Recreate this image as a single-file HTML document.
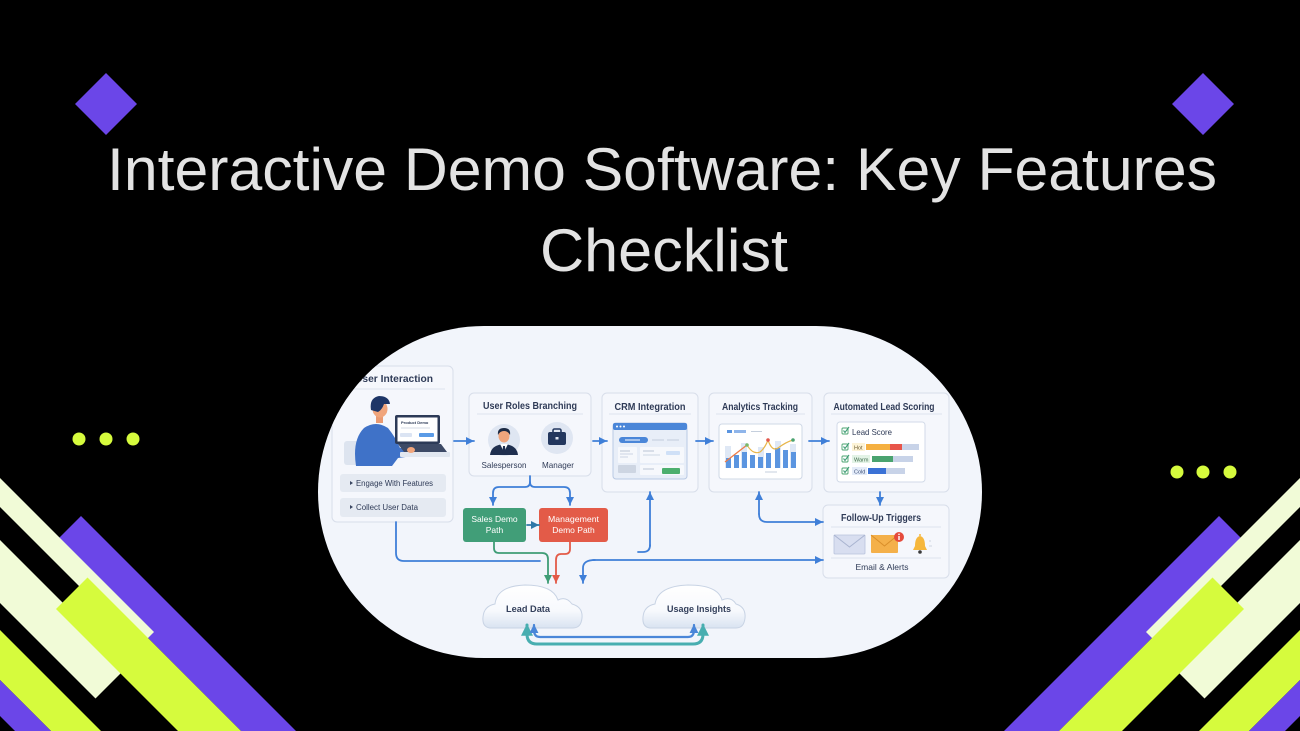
<!DOCTYPE html>
<html>
<head>
<meta charset="utf-8">
<style>
html,body{margin:0;padding:0;background:#000;width:1300px;height:731px;overflow:hidden;}
svg{display:block;}
text{font-family:"Liberation Sans","DejaVu Sans",sans-serif;}
</style>
</head>
<body>
<svg width="1300" height="731" viewBox="0 0 1300 731" xmlns="http://www.w3.org/2000/svg">
<defs>
  <clipPath id="pill"><rect x="318" y="326" width="664" height="332" rx="166" ry="166"/></clipPath>
  <marker id="ab" viewBox="0 0 10 10" refX="10" refY="5" markerWidth="8" markerHeight="8" markerUnits="userSpaceOnUse" orient="auto"><path d="M0,0 L10,5 L0,10 z" fill="#3f7fd8"/></marker>
  <marker id="ag" viewBox="0 0 10 10" refX="10" refY="5" markerWidth="8" markerHeight="8" markerUnits="userSpaceOnUse" orient="auto"><path d="M0,0 L10,5 L0,10 z" fill="#3f9d76"/></marker>
  <marker id="ar" viewBox="0 0 10 10" refX="10" refY="5" markerWidth="8" markerHeight="8" markerUnits="userSpaceOnUse" orient="auto"><path d="M0,0 L10,5 L0,10 z" fill="#e35b48"/></marker>
  <marker id="adt" viewBox="0 0 10 10" refX="10" refY="5" markerWidth="8" markerHeight="8" markerUnits="userSpaceOnUse" orient="auto"><path d="M0,0 L10,5 L0,10 z" fill="#2f78a8"/></marker>
  <marker id="at" viewBox="0 0 10 10" refX="9" refY="5" markerWidth="12" markerHeight="12" markerUnits="userSpaceOnUse" orient="auto"><path d="M0,0 L10,5 L0,10 z" fill="#48aeb0"/></marker>
  <marker id="ab2" viewBox="0 0 10 10" refX="9" refY="5" markerWidth="9" markerHeight="9" markerUnits="userSpaceOnUse" orient="auto"><path d="M0,0 L10,5 L0,10 z" fill="#4a86d8"/></marker>
  <linearGradient id="cloudg" x1="0" y1="0" x2="0" y2="1">
    <stop offset="0" stop-color="#ffffff"/>
    <stop offset="0.6" stop-color="#f7f9fd"/>
    <stop offset="1" stop-color="#d9e3f1"/>
  </linearGradient>
  <g id="stripes">
    <polygon fill="#6b46e8" points="81,516 296,731 241,731 53.5,543.5"/>
    <polygon fill="#f1fbd7" points="0,478 154,632 139.5,646.5 0,507"/>
    <polygon fill="#f1fbd7" points="0,540 127,667 95.5,698.5 0,603"/>
    <polygon fill="#d6fb3d" points="87.5,577.5 241,731 178,731 56,609"/>
    <polygon fill="#d6fb3d" points="0,630 101,731 51,731 0,680"/>
    <polygon fill="#6b46e8" points="0,680 51,731 15,731 0,716"/>
  </g>
</defs>

<rect x="0" y="0" width="1300" height="731" fill="#000"/>

<!-- decorative stripes -->
<use href="#stripes"/>
<use href="#stripes" transform="translate(1300,0) scale(-1,1)"/>

<!-- diamonds -->
<polygon fill="#6b46e8" points="106,73 137,104 106,135 75,104"/>
<polygon fill="#6b46e8" points="1203,73 1234,104 1203,135 1172,104"/>

<!-- dots -->
<g fill="#d6fb3d">
  <circle cx="79" cy="439" r="6.5"/><circle cx="106" cy="439" r="6.5"/><circle cx="133" cy="439" r="6.5"/>
  <circle cx="1177" cy="472" r="6.5"/><circle cx="1203" cy="472" r="6.5"/><circle cx="1230" cy="472" r="6.5"/>
</g>

<!-- title -->
<text x="107" y="190" font-size="60" fill="#e3e3e3" textLength="1110" lengthAdjust="spacingAndGlyphs">Interactive Demo Software: Key Features</text>
<text x="540" y="271" font-size="60" fill="#e3e3e3" textLength="248" lengthAdjust="spacingAndGlyphs">Checklist</text>

<!-- pill diagram -->
<rect x="318" y="326" width="664" height="332" rx="166" ry="166" fill="#f2f5fb"/>
<g clip-path="url(#pill)">

  <!-- User Interaction box -->
  <rect x="332" y="366" width="121" height="156" rx="5" fill="#f5f7fc" stroke="#d8deea" stroke-width="1"/>
  <text x="355" y="382" font-size="10" font-weight="bold" fill="#2f3b57" textLength="78" lengthAdjust="spacingAndGlyphs">User Interaction</text>
  <line x1="340" y1="389" x2="445" y2="389" stroke="#dde3ee" stroke-width="1"/>
  <!-- person illustration -->
  <rect x="344" y="441" width="33" height="24" rx="3" fill="#dde4ef"/>
  <path d="M356,466 Q352,440 364,428 Q376,420 388,428 Q396,438 400,448 L412,448 L413,456 L398,458 Q395,462 392,466 Z" fill="#3f72c8"/>
  <rect x="376" y="413" width="7" height="10" fill="#e99a72"/>
  <ellipse cx="380" cy="409" rx="7.5" ry="8.5" fill="#f0a57c"/>
  <path d="M371,410 Q369,398 379,396 Q389,396 390,404 L384,404 Q382,410 378,412 Z" fill="#1e3667"/>
  <rect x="395" y="415" width="45" height="29" rx="2" fill="#2c3a57"/>
  <rect x="397.5" y="417.5" width="40" height="24" fill="#ffffff"/>
  <text x="401" y="424" font-size="4" font-weight="bold" fill="#2c3a57">Product Demo</text>
  <line x1="401" y1="428" x2="430" y2="428" stroke="#d5dbe6" stroke-width="1"/>
  <rect x="400" y="433" width="12" height="4" rx="1" fill="#dbe4f3"/>
  <rect x="419" y="433" width="15" height="4" rx="1" fill="#5b9be6"/>
  <path d="M398,444 L441,444 L447,452 L404,452 Z" fill="#3d4a66"/>
  <rect x="400" y="452" width="50" height="5" rx="1" fill="#e1e7f0"/>
  <ellipse cx="411" cy="450" rx="4" ry="3" fill="#f0a57c"/>
  <!-- list buttons -->
  <rect x="340" y="474" width="106" height="18" rx="3" fill="#e5eaf2"/>
  <polygon points="350,481 353,483 350,485" fill="#3a4661"/>
  <text x="356" y="486" font-size="8" fill="#2f3b57" textLength="77" lengthAdjust="spacingAndGlyphs">Engage With Features</text>
  <rect x="340" y="498" width="106" height="19" rx="3" fill="#e5eaf2"/>
  <polygon points="350,505 353,507 350,509" fill="#3a4661"/>
  <text x="356" y="510" font-size="8" fill="#2f3b57" textLength="62" lengthAdjust="spacingAndGlyphs">Collect User Data</text>

  <!-- User Roles Branching -->
  <rect x="469" y="393" width="122" height="83" rx="5" fill="#f5f7fc" stroke="#d8deea" stroke-width="1"/>
  <text x="530" y="409" font-size="10" font-weight="bold" fill="#2f3b57" text-anchor="middle" textLength="94" lengthAdjust="spacingAndGlyphs">User Roles Branching</text>
  <line x1="477" y1="414" x2="583" y2="414" stroke="#dde3ee" stroke-width="1"/>
  <circle cx="504" cy="440" r="16" fill="#dfe6f2"/>
  <path d="M490,455 Q491,445 504,444 Q517,445 518,455 Z" fill="#1f2f4f"/>
  <path d="M500,444 L504,452 L508,444 Z" fill="#ffffff"/>
  <path d="M503,446 L505,446 L505.5,453 L504,455 L502.5,453 Z" fill="#1f2f4f"/>
  <ellipse cx="504" cy="436" rx="5.5" ry="6.5" fill="#f0a57c"/>
  <path d="M498,435 Q497,428 504,428 Q511,428 510,435 Q508,431 504,431 Q500,431 498,435 Z" fill="#1c2a44"/>
  <text x="504" y="468" font-size="8.5" fill="#2f3b57" text-anchor="middle" textLength="45" lengthAdjust="spacingAndGlyphs">Salesperson</text>
  <circle cx="557" cy="438" r="16" fill="#dfe6f2"/>
  <rect x="553" y="429" width="8" height="5" rx="1.5" fill="none" stroke="#23375e" stroke-width="1.6"/>
  <rect x="548" y="432" width="18" height="13" rx="2" fill="#23375e"/>
  <rect x="555.5" y="437" width="3" height="2.5" fill="#dfe6f2"/>
  <text x="558" y="468" font-size="8.5" fill="#2f3b57" text-anchor="middle" textLength="32" lengthAdjust="spacingAndGlyphs">Manager</text>

  <!-- CRM Integration -->
  <rect x="602" y="393" width="96" height="99" rx="5" fill="#f5f7fc" stroke="#d8deea" stroke-width="1"/>
  <text x="650" y="410" font-size="10" font-weight="bold" fill="#2f3b57" text-anchor="middle" textLength="71" lengthAdjust="spacingAndGlyphs">CRM Integration</text>
  <line x1="609" y1="414" x2="691" y2="414" stroke="#dde3ee" stroke-width="1"/>
  <rect x="613" y="423" width="74" height="56" rx="3" fill="#e8eef8" stroke="#b9c9e3" stroke-width="1"/>
  <rect x="613" y="423" width="74" height="7" rx="2" fill="#4a86d8"/>
  <circle cx="617" cy="426.5" r="1" fill="#fff"/><circle cx="620.5" cy="426.5" r="1" fill="#fff"/><circle cx="624" cy="426.5" r="1" fill="#fff"/>
  <rect x="619" y="437" width="29" height="6" rx="3" fill="#4a86d8"/>
  <rect x="625" y="439.5" width="15" height="1" fill="#fff"/>
  <line x1="652" y1="440" x2="664" y2="440" stroke="#c2ccdc" stroke-width="1"/>
  <line x1="667" y1="440" x2="679" y2="440" stroke="#c2ccdc" stroke-width="1"/>
  <rect x="618" y="447" width="19" height="16" rx="1" fill="#f6f8fc"/>
  <line x1="620" y1="451" x2="630" y2="451" stroke="#aab6c9" stroke-width="0.8"/>
  <line x1="620" y1="454" x2="633" y2="454" stroke="#c2ccdc" stroke-width="0.8"/>
  <line x1="620" y1="457" x2="628" y2="457" stroke="#c2ccdc" stroke-width="0.8"/>
  <rect x="640" y="447" width="44" height="16" rx="1" fill="#f6f8fc"/>
  <line x1="643" y1="451" x2="654" y2="451" stroke="#aab6c9" stroke-width="0.8"/>
  <line x1="643" y1="455" x2="660" y2="455" stroke="#c2ccdc" stroke-width="0.8"/>
  <rect x="666" y="451" width="14" height="4" rx="1" fill="#cfe0f7"/>
  <rect x="618" y="465" width="18" height="8" rx="1" fill="#cdd5e2"/>
  <rect x="640" y="465" width="44" height="10" rx="1" fill="#f6f8fc"/>
  <line x1="643" y1="469" x2="654" y2="469" stroke="#aab6c9" stroke-width="0.8"/>
  <rect x="662" y="468" width="18" height="6" rx="1" fill="#4caf6e"/>

  <!-- Analytics Tracking -->
  <rect x="709" y="393" width="103" height="99" rx="5" fill="#f5f7fc" stroke="#d8deea" stroke-width="1"/>
  <text x="760" y="410" font-size="10" font-weight="bold" fill="#2f3b57" text-anchor="middle" textLength="76" lengthAdjust="spacingAndGlyphs">Analytics Tracking</text>
  <line x1="716" y1="414" x2="805" y2="414" stroke="#dde3ee" stroke-width="1"/>
  <rect x="719" y="424" width="83" height="55" rx="3" fill="#ffffff" stroke="#cfd8e6" stroke-width="1"/>
  <rect x="727" y="430" width="5" height="3" fill="#5b95e0"/>
  <rect x="734" y="430" width="12" height="3" fill="#8fb5ea"/>
  <line x1="751" y1="431.5" x2="762" y2="431.5" stroke="#c5cfdd" stroke-width="1"/>
  <g fill="#dfe8f5">
    <rect x="725" y="446" width="6" height="22"/><rect x="741" y="443" width="6" height="25"/><rect x="758" y="447" width="6" height="21"/><rect x="775" y="441" width="6" height="27"/><rect x="790" y="444" width="6" height="24"/>
  </g>
  <g fill="#5b95e0">
    <rect x="726" y="458" width="5" height="10"/><rect x="734" y="455" width="5" height="13"/><rect x="742" y="452" width="5" height="16"/><rect x="750" y="455" width="5" height="13"/><rect x="758" y="457" width="5" height="11"/><rect x="766" y="453" width="5" height="15"/><rect x="775" y="448" width="5" height="20"/><rect x="783" y="450" width="5" height="18"/><rect x="791" y="452" width="5" height="16"/>
  </g>
  <path d="M725,462 L747,445" stroke="#ef7b45" stroke-width="1.3" fill="none"/>
  <path d="M747,445 Q753,455 760,452 Q765,448 768,440 Q772,452 778,448 Q786,442 793,440" stroke="#e8b64a" stroke-width="1.2" fill="none"/>
  <circle cx="747" cy="445" r="1.8" fill="#7bb86a"/>
  <circle cx="768" cy="440" r="1.8" fill="#e2574c"/>
  <circle cx="793" cy="440" r="1.8" fill="#4aa36f"/>
  <line x1="765" y1="472" x2="777" y2="472" stroke="#c5cfdd" stroke-width="1"/>

  <!-- Automated Lead Scoring -->
  <rect x="824" y="393" width="125" height="99" rx="5" fill="#f5f7fc" stroke="#d8deea" stroke-width="1"/>
  <text x="884" y="410" font-size="10" font-weight="bold" fill="#2f3b57" text-anchor="middle" textLength="101" lengthAdjust="spacingAndGlyphs">Automated Lead Scoring</text>
  <line x1="831" y1="414" x2="942" y2="414" stroke="#dde3ee" stroke-width="1"/>
  <rect x="837" y="422" width="88" height="60" rx="3" fill="#ffffff" stroke="#d2dae8" stroke-width="1"/>
  <g fill="none" stroke="#4aa36f" stroke-width="0.9">
    <rect x="842" y="428" width="6" height="6" rx="1"/>
    <rect x="842" y="444" width="6" height="6" rx="1"/>
    <rect x="842" y="456" width="6" height="6" rx="1"/>
    <rect x="842" y="468" width="6" height="6" rx="1"/>
  </g>
  <g fill="none" stroke="#3f9d76" stroke-width="1.1">
    <path d="M843.5,430.5 L845,432.5 L849,427"/>
    <path d="M843.5,446.5 L845,448.5 L849,443"/>
    <path d="M843.5,458.5 L845,460.5 L849,455"/>
    <path d="M843.5,470.5 L845,472.5 L849,467"/>
  </g>
  <text x="852" y="435" font-size="8.5" fill="#2f3b57" textLength="40" lengthAdjust="spacingAndGlyphs">Lead Score</text>
  <rect x="852" y="443" width="13" height="8" fill="#fdf3d6"/>
  <text x="854" y="449.5" font-size="5.5" fill="#6a5a30">Hot</text>
  <rect x="866" y="444" width="24" height="6" fill="#f5b041"/>
  <rect x="890" y="444" width="12" height="6" fill="#e8554a"/>
  <rect x="902" y="444" width="17" height="6" fill="#c8d3e8"/>
  <rect x="852" y="455" width="18" height="8" fill="#e3f3e6"/>
  <text x="854" y="461.5" font-size="5.5" fill="#3d6a4a">Warm</text>
  <rect x="872" y="456" width="21" height="6" fill="#4aa36f"/>
  <rect x="893" y="456" width="20" height="6" fill="#c8d3e8"/>
  <rect x="852" y="467" width="15" height="8" fill="#e4ecf9"/>
  <text x="854" y="473.5" font-size="5.5" fill="#3d4f78">Cold</text>
  <rect x="868" y="468" width="18" height="6" fill="#3b72d6"/>
  <rect x="886" y="468" width="19" height="6" fill="#c8d3e8"/>

  <!-- Follow-Up Triggers -->
  <rect x="823" y="505" width="126" height="73" rx="5" fill="#f5f7fc" stroke="#d8deea" stroke-width="1"/>
  <text x="881" y="521" font-size="10" font-weight="bold" fill="#2f3b57" text-anchor="middle" textLength="80" lengthAdjust="spacingAndGlyphs">Follow-Up Triggers</text>
  <line x1="831" y1="527" x2="941" y2="527" stroke="#dde3ee" stroke-width="1"/>
  <rect x="834" y="535" width="31" height="19" rx="1" fill="#d8def0" stroke="#b8c2dc" stroke-width="0.8"/>
  <path d="M834,535 L849.5,547 L865,535" fill="none" stroke="#a9b4d0" stroke-width="1"/>
  <rect x="871" y="535" width="27" height="18" rx="1" fill="#f4b04a"/>
  <path d="M871,535 L884.5,546 L898,535" fill="none" stroke="#d98e2a" stroke-width="1"/>
  <circle cx="899" cy="537" r="5" fill="#e54b3c"/>
  <rect x="898.3" y="536" width="1.4" height="4" fill="#fff"/>
  <circle cx="899" cy="534.3" r="0.8" fill="#fff"/>
  <path d="M913,550 Q914,548 915,546 Q915,537 920,536 Q925,537 925,546 Q926,548 927,550 Z" fill="#f6b73c"/>
  <circle cx="920" cy="552" r="1.8" fill="#3a3a3a"/>
  <circle cx="920" cy="535" r="1" fill="#f6b73c"/>
  <line x1="929" y1="541" x2="931" y2="541" stroke="#c0c8d8" stroke-width="0.8"/>
  <line x1="929" y1="546" x2="932" y2="546" stroke="#c0c8d8" stroke-width="0.8"/>
  <line x1="831" y1="558" x2="941" y2="558" stroke="#dde3ee" stroke-width="1"/>
  <text x="882" y="570" font-size="8.5" fill="#2f3b57" text-anchor="middle" textLength="53" lengthAdjust="spacingAndGlyphs">Email &amp; Alerts</text>

  <!-- Sales / Management boxes -->
  <rect x="463" y="508" width="63" height="34" rx="3" fill="#419e78"/>
  <text x="494.5" y="522" font-size="8.5" fill="#ffffff" text-anchor="middle">Sales Demo</text>
  <text x="494.5" y="533" font-size="8.5" fill="#ffffff" text-anchor="middle">Path</text>
  <rect x="539" y="508" width="69" height="34" rx="3" fill="#e35b48"/>
  <text x="573.5" y="522" font-size="8.5" fill="#ffffff" text-anchor="middle" textLength="51" lengthAdjust="spacingAndGlyphs">Management</text>
  <text x="573.5" y="533" font-size="8.5" fill="#ffffff" text-anchor="middle">Demo Path</text>

  <!-- connectors -->
  <g fill="none" stroke-width="1.8" stroke-linecap="round" stroke-linejoin="round">
    <path d="M454,441 H474" stroke="#3f7fd8" marker-end="url(#ab)"/>
    <path d="M593,441 H607" stroke="#3f7fd8" marker-end="url(#ab)"/>
    <path d="M696,441 H713" stroke="#3f7fd8" marker-end="url(#ab)"/>
    <path d="M809,441 H829" stroke="#3f7fd8" marker-end="url(#ab)"/>
    <path d="M880,492 V505" stroke="#3f7fd8" marker-end="url(#ab)"/>
    <path d="M530,476 V482 Q530,487 525,487 H499 Q493,487 493,493 V505" stroke="#3f7fd8" marker-end="url(#ab)"/>
    <path d="M530,482 Q530,487 535,487 H564 Q570,487 570,493 V505" stroke="#3f7fd8" marker-end="url(#ab)"/>
    <path d="M527,525 H539" stroke="#2f78a8" marker-end="url(#adt)"/>
    <path d="M494,542 V548 Q494,553 499,553 H542 Q548,553 548,559 V583" stroke="#3f9d76" marker-end="url(#ag)"/>
    <path d="M570,542 V549 Q570,554 565,554 H561 Q556,554 556,560 V583" stroke="#e35b48" marker-end="url(#ar)"/>
    <path d="M396,522 V553 Q396,561 404,561 H540" stroke="#3f7fd8"/>
    <path d="M650,546 V492" stroke="#3f7fd8" marker-end="url(#ab)"/>
    <path d="M650,545 Q650,552 643,552 H638" stroke="#3f7fd8"/>
    <path d="M593,560 H823" stroke="#3f7fd8" marker-end="url(#ab)"/>
    <path d="M595,560 Q583,560 583,568 V583" stroke="#3f7fd8" marker-end="url(#ab)"/>
    <path d="M759,514 V492" stroke="#3f7fd8" marker-end="url(#ab)"/>
    <path d="M759,514 Q759,522 767,522 H823" stroke="#3f7fd8" marker-end="url(#ab)"/>
  </g>

  <!-- clouds -->
  <path d="M490,628 Q482,627 483,617 Q484,606 495,604 Q497,586 525,585 Q553,585 558,600 Q566,596 572,604 Q583,607 582,618 Q581,628 573,628 Z" fill="url(#cloudg)" stroke="#c8d3e4" stroke-width="1"/>
  <text x="528" y="612" font-size="9.5" font-weight="bold" fill="#34405c" text-anchor="middle" textLength="44" lengthAdjust="spacingAndGlyphs">Lead Data</text>
  <path d="M650,628 Q642,627 643,617 Q644,606 655,604 Q658,586 688,585 Q718,585 722,600 Q731,596 736,604 Q746,607 745,618 Q744,628 736,628 Z" fill="url(#cloudg)" stroke="#c8d3e4" stroke-width="1"/>
  <text x="699" y="612" font-size="9.5" font-weight="bold" fill="#34405c" text-anchor="middle" textLength="64" lengthAdjust="spacingAndGlyphs">Usage Insights</text>

  <!-- loop arrows under clouds -->
  <g fill="none" stroke-linecap="round">
    <path d="M527,634 Q527,644 537,644 H693 Q703,644 703,634 V625" stroke="#48aeb0" stroke-width="3" marker-end="url(#at)"/>
    <path d="M527,634 V625" stroke="#48aeb0" stroke-width="3" marker-end="url(#at)"/>
    <path d="M534,630 Q534,637 540,637 H688 Q694,637 694,630 V625" stroke="#4a86d8" stroke-width="2.2" marker-end="url(#ab2)"/>
    <path d="M534,630 V625" stroke="#4a86d8" stroke-width="2.2" marker-end="url(#ab2)"/>
  </g>
</g>
</svg>
</body>
</html>
